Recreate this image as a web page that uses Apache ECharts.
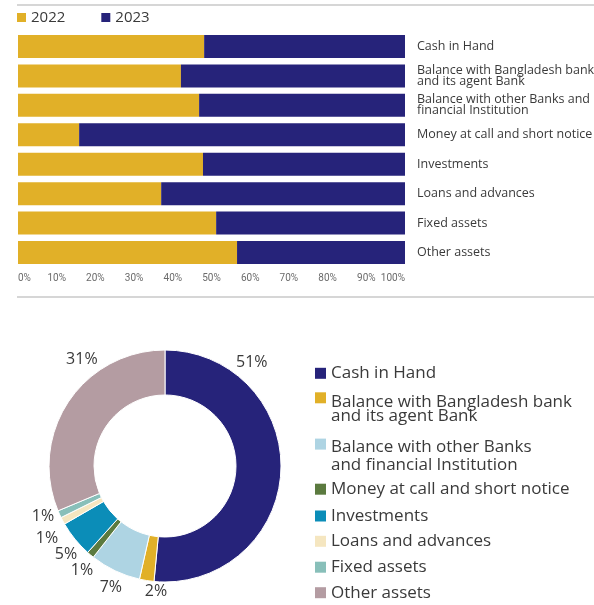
<!DOCTYPE html>
<html>
<head>
<meta charset="utf-8">
<style>
  html, body { margin: 0; padding: 0; background: #ffffff; }
  #chart { width: 594px; height: 605px; }
</style>
<script src="https://cdn.jsdelivr.net/npm/echarts@6/dist/echarts.min.js"></script>
</head>
<body>
<div id="chart"></div>
<script>
// ---- Asset composition data ----
const barCategories = [
  'Cash in Hand',
  'Balance with Bangladesh bank\nand its agent Bank',
  'Balance with other Banks and\nfinancial Institution',
  'Money at call and short notice',
  'Investments',
  'Loans and advances',
  'Fixed assets',
  'Other assets'
];
const years = ['2022', '2023'];
const share2022 = [48.1, 42.1, 46.8, 15.8, 47.8, 37.0, 51.2, 56.6];
const share2023 = [51.9, 57.9, 53.2, 84.2, 52.2, 63.0, 48.8, 43.4];
const percentTicks = ['0%', '10%', '20%', '30%', '40%', '50%', '60%', '70%', '80%', '90%', '100%'];

const pieCategories = [
  'Cash in Hand',
  'Balance with Bangladesh bank\nand its agent Bank',
  'Balance with other Banks\nand financial Institution',
  'Money at call and short notice',
  'Investments',
  'Loans and advances',
  'Fixed assets',
  'Other assets'
];
const pieShares = [51, 2, 7, 1, 5, 1, 1, 31];

// ---- Styling ----
const yearColors = ['#e1b028', '#26237a'];
const pieColors = ['#26237a', '#e1b028', '#aed4e3', '#5b7a3f', '#0b8db8', '#f5e6c0', '#88bfb9', '#b49ca2'];
const textColor = '#3a3a3a';
const font = 'Open Sans';
const tickFont = 'Roboto';

// donut geometry
const pieCenter = [165, 466];
const pieRadius = [71, 116];
// label placement around the ring: angle clockwise from 12 o'clock, distance from centre
const labelAngle = [40, 184.1, 204.1, 218.6, 228.4, 238.6, 247.7, 322];
const labelDist = [135, 125.3, 132.5, 133, 132.5, 138.2, 131.8, 135];

// donut legend entries: vertical position, box height, line height
const pieLegendTop = [364.8, 392.3, 437.8, 480.7, 507.5, 532.8, 558.7, 584.2];
const pieLegendBox = [11, 33, 34.4, 11, 11, 11, 11, 11];
const pieLegendLineHeight = [16, 14, 18, 16, 16, 16, 16, 16];

const chart = echarts.init(document.getElementById('chart'), null, { renderer: 'canvas' });

const pieLegends = pieCategories.map((name, i) => {
  const h = pieLegendBox[i];
  // square swatch sitting at the top of the entry box
  const icon = h > 11 ? 'path://M0,0h11v11h-11z M11,' + h : 'rect';
  return {
    show: true,
    orient: 'vertical',
    left: 315,
    top: pieLegendTop[i],
    padding: 0,
    itemWidth: 11,
    itemHeight: h,
    symbolKeepAspect: true,
    itemStyle: { borderWidth: 0 },
    data: [{ name: name, icon: icon }],
    textStyle: {
      fontFamily: font,
      fontSize: 17,
      color: textColor,
      lineHeight: pieLegendLineHeight[i]
    }
  };
});

const option = {
  animation: false,
  backgroundColor: '#ffffff',
  graphic: [
    { type: 'line', shape: { x1: 17, y1: 5, x2: 594, y2: 5 }, style: { stroke: '#c8c8c8', lineWidth: 1.5 } },
    { type: 'line', shape: { x1: 17, y1: 297, x2: 594, y2: 297 }, style: { stroke: '#c8c8c8', lineWidth: 1.5 } }
  ],
  legend: [{
    left: 17,
    top: 10,
    padding: 0,
    itemWidth: 9,
    itemHeight: 9,
    itemGap: 36,
    icon: 'rect',
    data: years,
    textStyle: { fontFamily: font, fontSize: 15, color: textColor }
  }].concat(pieLegends),
  grid: {
    left: 18,
    right: 189,
    top: 31.8,
    bottom: 337.8,
    containLabel: false,
    outerBoundsMode: 'none'
  },
  xAxis: {
    type: 'value',
    min: 0,
    max: 100,
    interval: 10,
    axisLine: { show: false },
    axisTick: { show: false },
    splitLine: { show: false },
    axisLabel: {
      margin: 6,
      color: '#6b6b6b',
      fontFamily: tickFont,
      fontSize: 10,
      hideOverlap: false,
      showMinLabel: true,
      showMaxLabel: true,
      alignMinLabel: 'left',
      alignMaxLabel: 'right',
      formatter: (v) => percentTicks[Math.round(v / 10)]
    }
  },
  yAxis: {
    type: 'category',
    data: barCategories,
    inverse: true,
    position: 'right',
    axisLine: { show: false },
    axisTick: { show: false },
    axisLabel: {
      margin: 12,
      color: textColor,
      fontFamily: font,
      fontSize: 12.5,
      lineHeight: 11,
      align: 'left'
    }
  },
  series: [
    {
      name: years[0],
      type: 'bar',
      stack: 'share',
      barWidth: 23,
      itemStyle: { color: yearColors[0] },
      data: share2022
    },
    {
      name: years[1],
      type: 'bar',
      stack: 'share',
      barWidth: 23,
      itemStyle: { color: yearColors[1] },
      data: share2023
    },
    {
      name: 'Assets',
      type: 'pie',
      center: pieCenter,
      radius: pieRadius,
      startAngle: 90,
      clockwise: true,
      avoidLabelOverlap: false,
      itemStyle: { borderColor: '#ffffff', borderWidth: 1 },
      label: {
        show: true,
        position: 'outside',
        formatter: (p) => p.value + '%',
        fontFamily: font,
        fontSize: 16,
        color: textColor
      },
      labelLine: { show: false, length: 8, length2: 0 },
      labelLayout: (params) => {
        const i = params.dataIndex;
        const rad = labelAngle[i] * Math.PI / 180;
        return {
          x: pieCenter[0] + labelDist[i] * Math.sin(rad),
          y: pieCenter[1] - labelDist[i] * Math.cos(rad),
          align: 'center',
          verticalAlign: 'middle'
        };
      },
      emphasis: { scale: false },
      data: pieCategories.map((name, i) => ({
        name: name,
        value: pieShares[i],
        itemStyle: { color: pieColors[i] }
      }))
    }
  ]
};

chart.setOption(option);
</script>
</body>
</html>
